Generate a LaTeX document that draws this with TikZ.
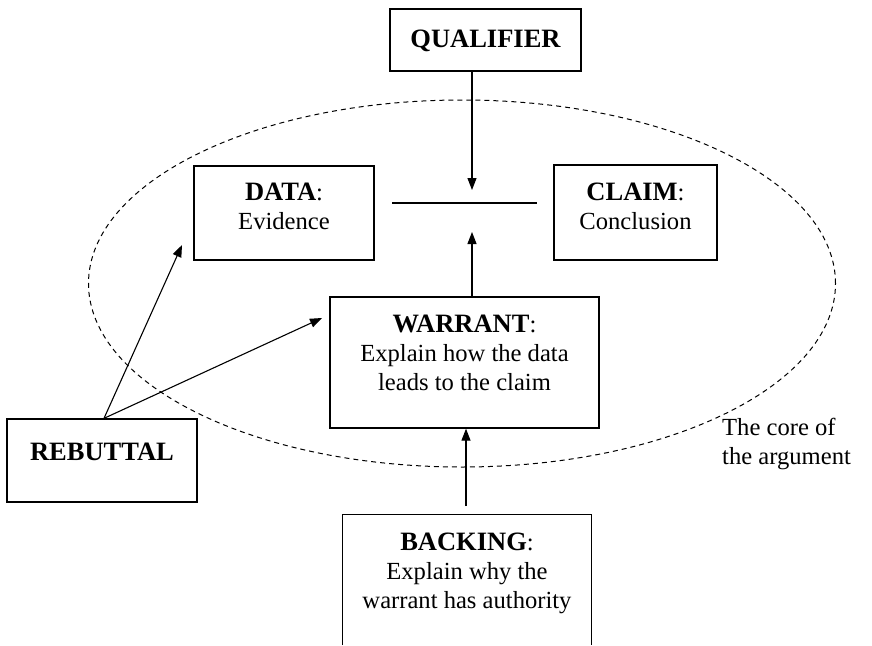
\documentclass[tikz,border=0pt]{standalone}
\usepackage{fontspec}
\setmainfont{Liberation Serif}
\usetikzlibrary{arrows.meta,shapes.geometric}
\newcommand\headword[1]{{\fontsize{26.5}{29}\selectfont\bfseries #1}}
\begin{document}
\begin{tikzpicture}[x=1pt,y=-1pt,
  box/.style={draw,line width=1.3pt,inner sep=0pt},
  txt/.style={anchor=north,inner sep=0pt,align=center,font=\fontsize{24.6}{29}\selectfont},
  arr/.style={line width=1.1pt,-{Triangle[length=12pt,width=9pt]}},
  plain/.style={line width=1.1pt},
  core/.style={draw,dashed,dash pattern=on 5pt off 4pt,line width=1pt,ellipse,inner sep=0pt}]
\useasboundingbox (0,0) rectangle (872,645);
% core ellipse
\node[core,minimum width=747pt,minimum height=367pt] (core) at (462,283.5) {};
% boxes
\node[box,minimum width=191pt,minimum height=62pt] (qualifier) at (485.5,40) {};
\node[txt] (qualifiert) at (485.5,29.5) {\headword{QUALIFIER}};
\node[box,minimum width=180pt,minimum height=94pt] (data) at (284,213) {};
\node[txt] (datat) at (284,182.5) {\headword{DATA}:\\Evidence};
\node[box,minimum width=163pt,minimum height=95pt] (claim) at (635.5,212.5) {};
\node[txt] (claimt) at (635.5,182.5) {\headword{CLAIM}:\\Conclusion};
\node[box,minimum width=269pt,minimum height=131pt] (warrant) at (464.5,362.5) {};
\node[txt] (warrantt) at (464.5,314.5) {\headword{WARRANT}:\\Explain how the data\\leads to the claim};
\node[box,minimum width=190pt,minimum height=83pt] (rebuttal) at (102,460.5) {};
\node[txt] (rebuttalt) at (102,443) {\headword{REBUTTAL}};
\node[inner sep=0pt,minimum width=248pt,minimum height=130pt] (backing) at (467,580) {};
\draw[line width=1.3pt] (backing.south west) -- (backing.north west) -- (backing.north east) -- (backing.south east);
\node[txt] (backingt) at (467,532.5) {\headword{BACKING}:\\Explain why the\\warrant has authority};
\node[anchor=north west,inner sep=0pt,align=left,font=\fontsize{24.6}{29}\selectfont] (coret) at (722,418) {The core of\\the argument};
% coordinates
\coordinate (qtip) at (472,190);
\coordinate (barL) at (392,203);
\coordinate (barR) at (537,203);
\coordinate (wtip) at (472,232);
\coordinate (bstart) at (466,506);
\coordinate (dtip) at (182,245);
\coordinate (wtip2) at (322,318);
\coordinate (rstart) at (104,419);
% connectors
\draw[arr] (qualifier.south -| qtip) -- (qtip);
\draw[plain] (barL) -- (barR);
\draw[arr] (warrant.north -| wtip) -- (wtip);
\draw[arr] (bstart) -- (warrant.south -| bstart);
\draw[arr] (rebuttal.north -| rstart) -- (dtip);
\draw[arr] (rebuttal.north -| rstart) -- (wtip2);
\end{tikzpicture}
\end{document}
